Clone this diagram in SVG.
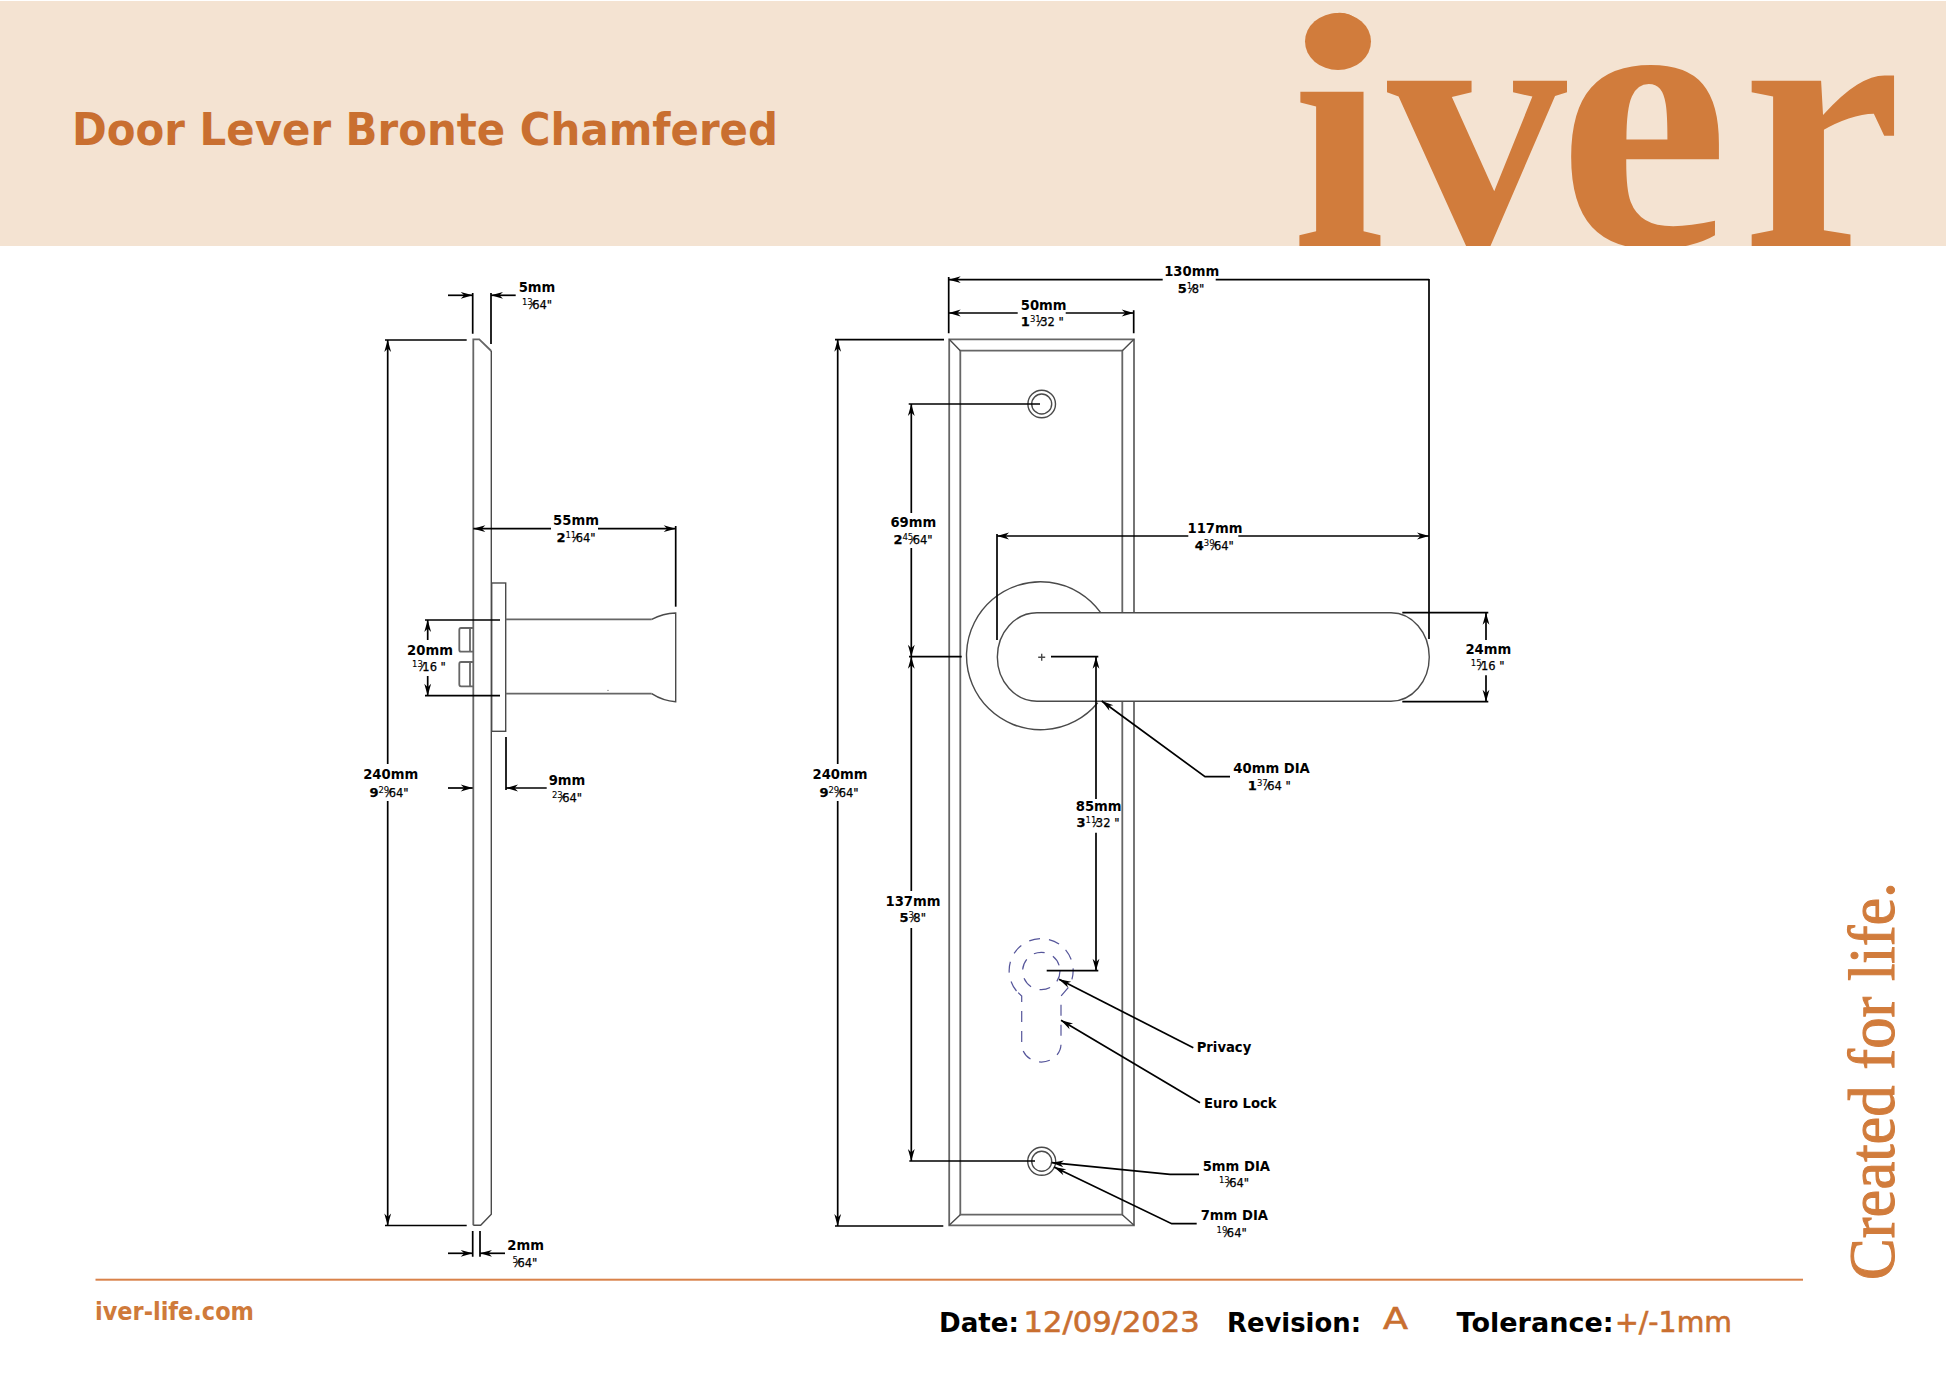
<svg xmlns="http://www.w3.org/2000/svg" width="1946" height="1376" viewBox="0 0 1946 1376">
<style>
.g{fill:none;stroke:#4a4a4a;stroke-width:1.4}
.p{fill:none;stroke:#666;stroke-width:1.8}
.k{fill:none;stroke:#000;stroke-width:1.7}
.a{fill:none;stroke:#000;stroke-width:1.7;marker-end:url(#ah)}
.dash{fill:none;stroke:#55559a;stroke-width:1.2;stroke-dasharray:11 9}
text{font-family:"DejaVu Sans",sans-serif}
.dim{font-size:13.2px;font-weight:700;fill:#000;text-anchor:middle}
.lead{font-size:13.2px;font-weight:700;fill:#000}
.fr{font-size:11.5px;fill:#000;stroke:#000;stroke-width:.25;text-anchor:middle}
.w{font-size:13px;font-weight:700}
.t{font-size:8.5px;stroke-width:.1}
.o{fill:#c96f30;stroke:#c96f30;stroke-width:.6}
.foot{font-size:26px;font-weight:700}
</style>
<defs>
<marker id="ah" markerUnits="userSpaceOnUse" markerWidth="15" markerHeight="10" refX="12.5" refY="5" orient="auto-start-reverse"><path d="M12.5,5 L0.5,1.6 L4,5 L0.5,8.4 Z" fill="#000"/></marker>
</defs>
<rect width="1946" height="1376" fill="#fff"/>
<g id="header">
<rect x="0" y="1" width="1946" height="245" fill="#f4e3d2"/>
<text x="72" y="145" font-size="44.5" font-weight="700" fill="#c96f30" textLength="706" lengthAdjust="spacingAndGlyphs">Door Lever Bronte Chamfered</text>
<text y="246" font-size="360" font-weight="700" fill="#d17c3c" style="font-family:'Liberation Serif',serif"><tspan x="1292" font-size="336">i</tspan><tspan x="1387">v</tspan><tspan x="1558" font-size="385">e</tspan><tspan x="1742">r</tspan></text>
<ellipse cx="1338" cy="41.5" rx="33" ry="28.5" fill="#d17c3c"/>
<rect x="1200" y="246" width="746" height="22" fill="#fff"/>
</g>
<g transform="translate(0,1)">
<g id="side-view">
<path class="p" d="M473.3,1224.3V338.3H479.3L491.3,350"/>
<path class="g" d="M491.3,350V1213.3L480.7,1224.3H473.3"/>
<rect class="g" x="491.7" y="582" width="14" height="148.3"/>
<path class="p" d="M505.7,618.3H651.7"/><path class="g" d="M651.7,618.3Q663,612.5 675.7,612V700.7Q663,700 651.7,692.7"/><path class="p" d="M651.7,692.7H505.7"/>
<path class="p" d="M473,627H461Q459.3,627 459.3,629V648.7Q459.3,650.7 461,650.7H473M470,627V650.7M473,661H461Q459.3,661 459.3,663V683.3Q459.3,685.3 461,685.3H473M470,661V685.3"/>
<circle cx="608" cy="689.3" r="0.6" fill="#555"/>
</g>
<g id="front-view">
<path class="p" d="M1122.3,611.7V349.7H960.3V1213.7H1122.3V700.3M1134,611.7V338.3H949.2V1224.3H1134V700.3"/>
<path class="g" d="M949.2,338.3L960.3,349.7M1134,338.3L1122.3,349.7M949.2,1224.3L960.3,1213.7M1134,1224.3L1122.3,1213.7"/>
</g>
<g id="top-hole"><circle class="g" cx="1041.7" cy="403" r="13.8"/><circle class="g" cx="1041.7" cy="403" r="10"/></g>
<g id="bottom-hole"><circle class="g" cx="1041.7" cy="1160.3" r="14"/><circle class="g" cx="1041.7" cy="1160.3" r="10"/></g>
<g id="rose"><path class="g" d="M1100.7,611.7A74,74 0 1 0 1097.7,701.7"/><path class="g" d="M1038.2,656.3h7M1041.7,652.8v7"/></g>
<g id="lever"><path class="g" d="M1037,611.7H1391A38.3,44.3 0 0 1 1391,700.3H1037A39.7,44.3 0 0 1 1037,611.7Z"/></g>
<g id="lock"><path class="dash" d="M1016.5,990A32,32 0 1 1 1068,987L1061,995V1043A19.6,18 0 0 1 1021.7,1043V995Z"/><circle class="dash" cx="1041.3" cy="970" r="18.7"/></g>
<g id="connectors">
<path class="k" d="M472.7,292V332.7M491,292V343"/>
<path class="a" d="M448,294.3H472.7"/><path class="a" d="M515.7,294.3H491"/>
<path class="k" d="M385,339H466.7M385,1224.5H466.7"/>
<path class="a" d="M387.7,763V339"/><path class="a" d="M387.7,800V1224.5"/>
<path class="a" d="M448,787H472.7"/>
<path class="k" d="M506,736V789"/><path class="a" d="M546.7,787H506"/>
<path class="a" d="M551,527.7H473.3"/><path class="a" d="M598,527.7H675.7"/>
<path class="k" d="M675.7,525V605.7"/>
<path class="k" d="M425,619H500M425,694.7H500"/>
<path class="a" d="M427.7,639V619"/><path class="a" d="M427.7,675V694.7"/>
<path class="k" d="M472.7,1230V1255.7M480,1230V1255.7"/>
<path class="a" d="M448,1252.3H472.7"/><path class="a" d="M505,1252.3H480"/>
<path class="k" d="M948.7,276V332.3M1429,278V638M1133.7,309.3V332.3"/>
<path class="a" d="M1162.7,278.7H948.7"/><path class="k" d="M1215.7,278.7H1429"/>
<path class="a" d="M1017.7,312H948.7"/><path class="a" d="M1065.7,312H1133.7"/>
<path class="k" d="M835,338.7H944M835,1225H943.3"/>
<path class="a" d="M837.7,763V338.7"/><path class="a" d="M837.7,800V1225"/>
<path class="k" d="M908.7,403H1040M909,655.7H961.7M909.3,1160H1035"/>
<path class="a" d="M911.3,512V403"/><path class="a" d="M911.3,547V655.7"/>
<path class="a" d="M911.3,890V655.7"/><path class="a" d="M911.3,927V1160"/>
<path class="k" d="M997,533V639"/>
<path class="a" d="M1188.3,535H997"/><path class="a" d="M1238.3,535H1429"/>
<path class="k" d="M1051,655.7H1098.3M1046.7,969.7H1098.3"/>
<path class="a" d="M1096,798V655.7"/><path class="a" d="M1096,831.7V969.7"/>
<path class="a" d="M1230,775.7H1205L1101.7,700"/>
<path class="k" d="M1402.3,611.7H1488.3M1402.3,700.7H1488.3"/>
<path class="a" d="M1486,639V611.7"/><path class="a" d="M1486,674.3V700.7"/>
<path class="a" d="M1193.3,1046.7L1059,978.3"/>
<path class="a" d="M1200,1101.7L1061,1019.3"/>
<path class="a" d="M1199,1173.3H1170L1051.7,1161.7"/>
<path class="a" d="M1196.7,1222.7H1171.7L1054,1166"/>
</g>
</g>
<g transform="translate(0,0.5)">
<g id="labels-side">
<text class="dim" x="537" y="291.7">5mm</text>
<text class="fr" x="537" y="308"><tspan class="t" dy="-4">13</tspan><tspan dy="4" dx="-1.5">⁄</tspan><tspan dx="-1">64"</tspan></text>
<text class="dim" x="576" y="524">55mm</text>
<text class="fr" x="576" y="541.7"><tspan class="w">2</tspan><tspan class="t" dy="-4">11</tspan><tspan dy="4" dx="-1.5">⁄</tspan><tspan dx="-1">64"</tspan></text>
<text class="dim" x="390.7" y="778">240mm</text>
<text class="fr" x="389" y="796"><tspan class="w">9</tspan><tspan class="t" dy="-4">29</tspan><tspan dy="4" dx="-1.5">⁄</tspan><tspan dx="-1">64"</tspan></text>
<text class="dim" x="430" y="654.3">20mm</text>
<text class="fr" x="429" y="670.7"><tspan class="t" dy="-4">13</tspan><tspan dy="4" dx="-1.5">⁄</tspan><tspan dx="-1">16 "</tspan></text>
<text class="dim" x="567" y="784">9mm</text>
<text class="fr" x="567" y="801.7"><tspan class="t" dy="-4">23</tspan><tspan dy="4" dx="-1.5">⁄</tspan><tspan dx="-1">64"</tspan></text>
<text class="dim" x="525.7" y="1249.3">2mm</text>
<text class="fr" x="525" y="1266"><tspan class="t" dy="-4">5</tspan><tspan dy="4" dx="-1.5">⁄</tspan><tspan dx="-1">64"</tspan></text>
</g>
<g id="labels-front">
<text class="dim" x="1191.7" y="275.7">130mm</text>
<text class="fr" x="1191" y="292.3"><tspan class="w">5</tspan><tspan class="t" dy="-4">1</tspan><tspan dy="4" dx="-1.5">⁄</tspan><tspan dx="-1">8"</tspan></text>
<text class="dim" x="1043.7" y="309">50mm</text>
<text class="fr" x="1042.3" y="325.7"><tspan class="w">1</tspan><tspan class="t" dy="-4">31</tspan><tspan dy="4" dx="-1.5">⁄</tspan><tspan dx="-1">32 "</tspan></text>
<text class="dim" x="840" y="778">240mm</text>
<text class="fr" x="839" y="796"><tspan class="w">9</tspan><tspan class="t" dy="-4">29</tspan><tspan dy="4" dx="-1.5">⁄</tspan><tspan dx="-1">64"</tspan></text>
<text class="dim" x="913.3" y="526.7">69mm</text>
<text class="fr" x="913" y="543.3"><tspan class="w">2</tspan><tspan class="t" dy="-4">45</tspan><tspan dy="4" dx="-1.5">⁄</tspan><tspan dx="-1">64"</tspan></text>
<text class="dim" x="913" y="905">137mm</text>
<text class="fr" x="912.7" y="921.7"><tspan class="w">5</tspan><tspan class="t" dy="-4">3</tspan><tspan dy="4" dx="-1.5">⁄</tspan><tspan dx="-1">8"</tspan></text>
<text class="dim" x="1215" y="532.3">117mm</text>
<text class="fr" x="1214.3" y="549"><tspan class="w">4</tspan><tspan class="t" dy="-4">39</tspan><tspan dy="4" dx="-1.5">⁄</tspan><tspan dx="-1">64"</tspan></text>
<text class="dim" x="1098.7" y="810">85mm</text>
<text class="fr" x="1098" y="826.7"><tspan class="w">3</tspan><tspan class="t" dy="-4">11</tspan><tspan dy="4" dx="-1.5">⁄</tspan><tspan dx="-1">32 "</tspan></text>
<text class="dim" x="1488.3" y="653.3">24mm</text>
<text class="fr" x="1487.7" y="669.3"><tspan class="t" dy="-4">15</tspan><tspan dy="4" dx="-1.5">⁄</tspan><tspan dx="-1">16 "</tspan></text>
<text class="lead" x="1233.3" y="772.3">40mm DIA</text>
<text class="fr" x="1269.3" y="789.3"><tspan class="w">1</tspan><tspan class="t" dy="-4">37</tspan><tspan dy="4" dx="-1.5">⁄</tspan><tspan dx="-1">64 "</tspan></text>
<text class="lead" x="1196.7" y="1051.7">Privacy</text>
<text class="lead" x="1204" y="1107.3">Euro Lock</text>
<text class="lead" x="1202.7" y="1170">5mm DIA</text>
<text class="fr" x="1234" y="1186.7"><tspan class="t" dy="-4">13</tspan><tspan dy="4" dx="-1.5">⁄</tspan><tspan dx="-1">64"</tspan></text>
<text class="lead" x="1200.7" y="1219.3">7mm DIA</text>
<text class="fr" x="1231.7" y="1236"><tspan class="t" dy="-4">19</tspan><tspan dy="4" dx="-1.5">⁄</tspan><tspan dx="-1">64"</tspan></text>
</g>
</g>
<g id="footer">
<rect x="95.5" y="1278.7" width="1707.5" height="2" fill="#d9824a"/>
<text x="95" y="1320" font-size="24" font-weight="700" fill="#cf7a3a" textLength="159" lengthAdjust="spacingAndGlyphs">iver-life.com</text>
<text class="foot" x="939" y="1331.7" textLength="80" lengthAdjust="spacingAndGlyphs">Date:</text>
<text class="o" x="1023.6" y="1331.7" font-size="28" textLength="176" lengthAdjust="spacingAndGlyphs">12/09/2023</text>
<text class="foot" x="1227" y="1331.7" textLength="134" lengthAdjust="spacingAndGlyphs">Revision:</text>
<text class="o" x="1383" y="1329" font-size="30" textLength="25" lengthAdjust="spacingAndGlyphs">A</text>
<text class="foot" x="1456.6" y="1331.7" textLength="157" lengthAdjust="spacingAndGlyphs">Tolerance:</text>
<text class="o" x="1615" y="1331.7" font-size="28" textLength="117" lengthAdjust="spacingAndGlyphs">+/-1mm</text>
<text transform="translate(1894,1280) rotate(-90)" font-size="66" fill="#d17c3c" stroke="#d17c3c" stroke-width="1.1" style="font-family:'Liberation Serif',serif" textLength="398" lengthAdjust="spacingAndGlyphs">Created for life.</text>
</g>
</svg>
